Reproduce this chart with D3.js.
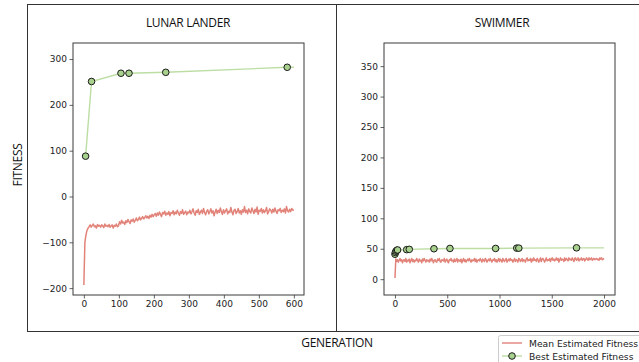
<!DOCTYPE html>
<html><head><meta charset="utf-8">
<script src="https://cdn.jsdelivr.net/npm/d3@7/dist/d3.min.js"></script>
<style>html,body{margin:0;padding:0;background:#fff;overflow:hidden}svg{display:block}</style>
</head><body>
<script>
// ---------- DATA ----------
const panelTitles = ["LUNAR LANDER", "SWIMMER"];
const yAxisLabel = "FITNESS";
const xAxisLabel = "GENERATION";
const legendLabels = ["Mean Estimated Fitness", "Best Estimated Fitness"];

// Lunar Lander: mean estimated fitness, one value every 3 generations (0..600)
const lunarMeanStep = 3;
const lunarMean = [
 -193,-100,-84,-74,-69,-66,
 -62,-67,-63,-60,-66,-64,-69,-61,-65,-63,-67,-62,-64,-68,-60,-65,-63,-66,-61,-67,-64,-62,-69,-63,-65,-60,-66,-64,
 -55,-60,-52,-58,-56,-61,-53,-57,-50,-55,-59,-51,-54,-49,-56,-52,-47,-53,-50,-45,-51,-48,-44,-49,-46,-42,-47,-43,-48,-41,-45,-39,-44,
 -40,-37,-43,-36,-41,-34,-39,-44,-35,-38,-32,-41,-36,-39,-33,-42,-35,-37,-31,-40,-34,-38,-30,-36,-41,-33,-37,-29,-39,-35,-32,-40,-34,-36,
 -30,-38,-33,-27,-36,-41,-31,-35,-28,-39,
 -34,-30,-37,-26,-35,-40,-32,-29,-38,-33,
 -27,-36,-31,-42,-34,-28,-37,-30,-35,-25,
 -33,-39,-29,-36,-31,-27,-38,-32,-35,-24,
 -34,-40,-30,-28,-37,-33,-26,-36,-31,-39,
 -29,-34,-22,-35,-30,-38,-27,-33,-36,-25,
 -31,-37,-28,-34,-23,-39,-30,-32,-26,-36,
 -29,-35,-31,-24,-38,-33,-27,-30,-36,-28,
 -34,-25,-32,-37,-29,-31,-26,-35,-30,-33,
 -27,-36,-22,-31,-34,-28,-33,-26,-30,-29
];
// Lunar Lander: best estimated fitness (markers at every point except the final line end)
const lunarBestGen = [5, 22, 106, 129, 234, 581, 600];
const lunarBestVal = [88, 251, 269, 269, 271, 282, 282];

// Swimmer: mean estimated fitness, one value every 8 generations (0..2000)
const swimMeanStep = 8;
const swimMean = [
 2,
 33,29,32,28,31,34,30,32,27,31,
 32,29,34,28,31,30,33,27,31,34,
 29,32,28,31,30,34,31,28,33,30,
 31,27,33,30,34,31,28,32,30,31,
 28,33,30,34,31,27,31,32,29,28,
 33,31,34,29,28,32,31,30,34,28,
 31,33,29,27,32,31,34,30,31,28,
 33,29,31,34,28,32,31,29,33,27,
 31,34,29,32,28,31,33,30,34,31,
 28,32,30,31,34,29,33,28,31,32,
 30,34,31,28,33,31,29,34,32,28,
 31,33,30,34,31,28,32,31,34,29,
 32,28,31,34,29,33,31,28,34,31,
 29,32,34,28,31,33,30,34,31,32,
 28,31,34,29,32,31,28,34,33,29,
 31,34,29,32,31,28,33,35,30,32,
 31,34,28,33,30,35,31,32,29,34,
 32,28,31,35,29,33,34,31,28,32,
 35,30,32,31,34,29,33,35,31,33,
 30,32,35,31,34,28,32,35,31,33,
 32,29,35,31,34,32,30,35,32,33,
 31,35,32,29,34,35,31,32,35,30,
 33,32,35,31,33,34,30,32,35,33,
 31,35,32,33,35,31,33,34,32,33,
 34,32,33,31,35,33,35,32,33,34
];
const swimBestGen = [0, 4, 10, 18, 25, 112, 137, 373, 526, 963, 1165, 1185, 1737, 2000];
const swimBestVal = [41, 44, 46, 47.5, 48, 48.5, 49, 50, 50.5, 50.5, 51, 51, 51.5, 51.5];

// Tick values
const lunarXTicks = [0, 100, 200, 300, 400, 500, 600];
const lunarYTicks = [-200, -100, 0, 100, 200, 300];
const swimXTicks = [0, 500, 1000, 1500, 2000];
const swimYTicks = [0, 50, 100, 150, 200, 250, 300, 350];

// ---------- LAYOUT / STYLE ----------
const W = 639, H = 362;
const meanColor = "#e2837a";
const bestLineColor = "#bcdea3";
const bestFill = "#a9d18e";
const spineColor = "#3a3a3a";
const textColor = "#222";
const tickFont = "DejaVu Sans, sans-serif";
const labelFont = "'Open Sans', 'Noto Sans', sans-serif";

const panels = [
  { title: panelTitles[0], frame: [27, 4, 336, 331], plot: [73, 43, 304, 295],
    xDomain: [-31, 629], yDomain: [-215, 335],
    mean: lunarMean, meanStep: lunarMeanStep, bestGen: lunarBestGen, bestVal: lunarBestVal,
    xTicks: lunarXTicks, yTicks: lunarYTicks, titleX: 188 },
  { title: panelTitles[1], frame: [336, 4, 700, 331], plot: [384, 43, 615, 295],
    xDomain: [-105, 2105], yDomain: [-26, 388],
    mean: swimMean, meanStep: swimMeanStep, bestGen: swimBestGen, bestVal: swimBestVal,
    xTicks: swimXTicks, yTicks: swimYTicks, titleX: 502 }
];

const svg = d3.select("body").append("svg").attr("width", W).attr("height", H);
svg.append("rect").attr("width", W).attr("height", H).attr("fill", "#fff");

panels.forEach(p => {
  const [fx0, fy0, fx1, fy1] = p.frame;
  svg.append("rect").attr("x", fx0 + 0.5).attr("y", fy0 + 0.5)
    .attr("width", fx1 - fx0).attr("height", fy1 - fy0)
    .attr("fill", "none").attr("stroke", "#333").attr("stroke-width", 1);

  svg.append("text").attr("x", p.titleX).attr("y", 27)
    .attr("text-anchor", "middle").attr("font-family", labelFont)
    .attr("font-size", 12).attr("letter-spacing", -0.3).attr("fill", "#111").text(p.title);

  const [px0, py0, px1, py1] = p.plot;
  const x = d3.scaleLinear().domain(p.xDomain).range([px0, px1]);
  const y = d3.scaleLinear().domain(p.yDomain).range([py1, py0]);

  const g = svg.append("g");
  const clipId = "clip" + px0;
  svg.append("clipPath").attr("id", clipId).append("rect")
    .attr("x", px0).attr("y", py0).attr("width", px1 - px0).attr("height", py1 - py0);
  const meanLine = d3.line().x((d, i) => x(i * p.meanStep)).y(d => y(d));
  g.append("path").datum(p.mean).attr("d", meanLine).attr("clip-path", `url(#${clipId})`)
    .attr("fill", "none").attr("stroke", meanColor).attr("stroke-width", 1.5)
    .attr("stroke-linejoin", "round");

  const best = p.bestGen.map((gv, i) => ({ g: gv, v: p.bestVal[i] }));
  const bestLine = d3.line().x(d => x(d.g)).y(d => y(d.v));
  g.append("path").datum(best).attr("d", bestLine)
    .attr("fill", "none").attr("stroke", bestLineColor).attr("stroke-width", 1.4);
  g.selectAll("circle").data(best.slice(0, -1)).join("circle")
    .attr("cx", d => x(d.g)).attr("cy", d => y(d.v)).attr("r", 3.3)
    .attr("fill", bestFill).attr("stroke", "#1a1a1a").attr("stroke-width", 1);

  const xAxis = d3.axisBottom(x).tickValues(p.xTicks).tickSize(3.5).tickPadding(2.5).tickFormat(d3.format("d"));
  const yAxis = d3.axisLeft(y).tickValues(p.yTicks).tickSize(3.5).tickPadding(2.5)
    .tickFormat(d => d < 0 ? "\u2212" + Math.abs(d) : String(d));
  const gx = svg.append("g").attr("transform", `translate(0,${py1})`).call(xAxis);
  const gy = svg.append("g").attr("transform", `translate(${px0},0)`).call(yAxis);
  [gx, gy].forEach(a => {
    a.select(".domain").remove();
    a.selectAll(".tick line").attr("stroke", spineColor).attr("stroke-width", 0.8);
    a.selectAll(".tick text").attr("font-family", tickFont).attr("font-size", 9).attr("fill", textColor);
  });
  svg.append("rect").attr("x", px0).attr("y", py0).attr("width", px1 - px0).attr("height", py1 - py0)
    .attr("fill", "none").attr("stroke", spineColor).attr("stroke-width", 1);
});

svg.append("text").attr("transform", "translate(22,165) rotate(-90)")
  .attr("text-anchor", "middle").attr("font-family", labelFont).attr("font-size", 12)
  .attr("letter-spacing", -0.3).attr("fill", "#111").text(yAxisLabel);
svg.append("text").attr("x", 337).attr("y", 347)
  .attr("text-anchor", "middle").attr("font-family", labelFont).attr("font-size", 12)
  .attr("letter-spacing", -0.3).attr("fill", "#111").text(xAxisLabel);

const lg = svg.append("g");
lg.append("rect").attr("x", 498.5).attr("y", 335.5).attr("width", 160).attr("height", 40).attr("rx", 2)
  .attr("fill", "#fff").attr("stroke", "#cccccc").attr("stroke-width", 1);
const rows = [{ y: 343, color: meanColor, marker: false }, { y: 356, color: bestLineColor, marker: true }];
rows.forEach((r, i) => {
  lg.append("line").attr("x1", 502).attr("x2", 522).attr("y1", r.y).attr("y2", r.y)
    .attr("stroke", r.color).attr("stroke-width", 1.4);
  if (r.marker) lg.append("circle").attr("cx", 512).attr("cy", r.y).attr("r", 3.3)
    .attr("fill", bestFill).attr("stroke", "#1a1a1a").attr("stroke-width", 1);
  lg.append("text").attr("x", 529).attr("y", r.y + 3.5).attr("font-family", tickFont)
    .attr("font-size", 9.2).attr("fill", textColor).text(legendLabels[i]);
});
</script>
</body></html>
